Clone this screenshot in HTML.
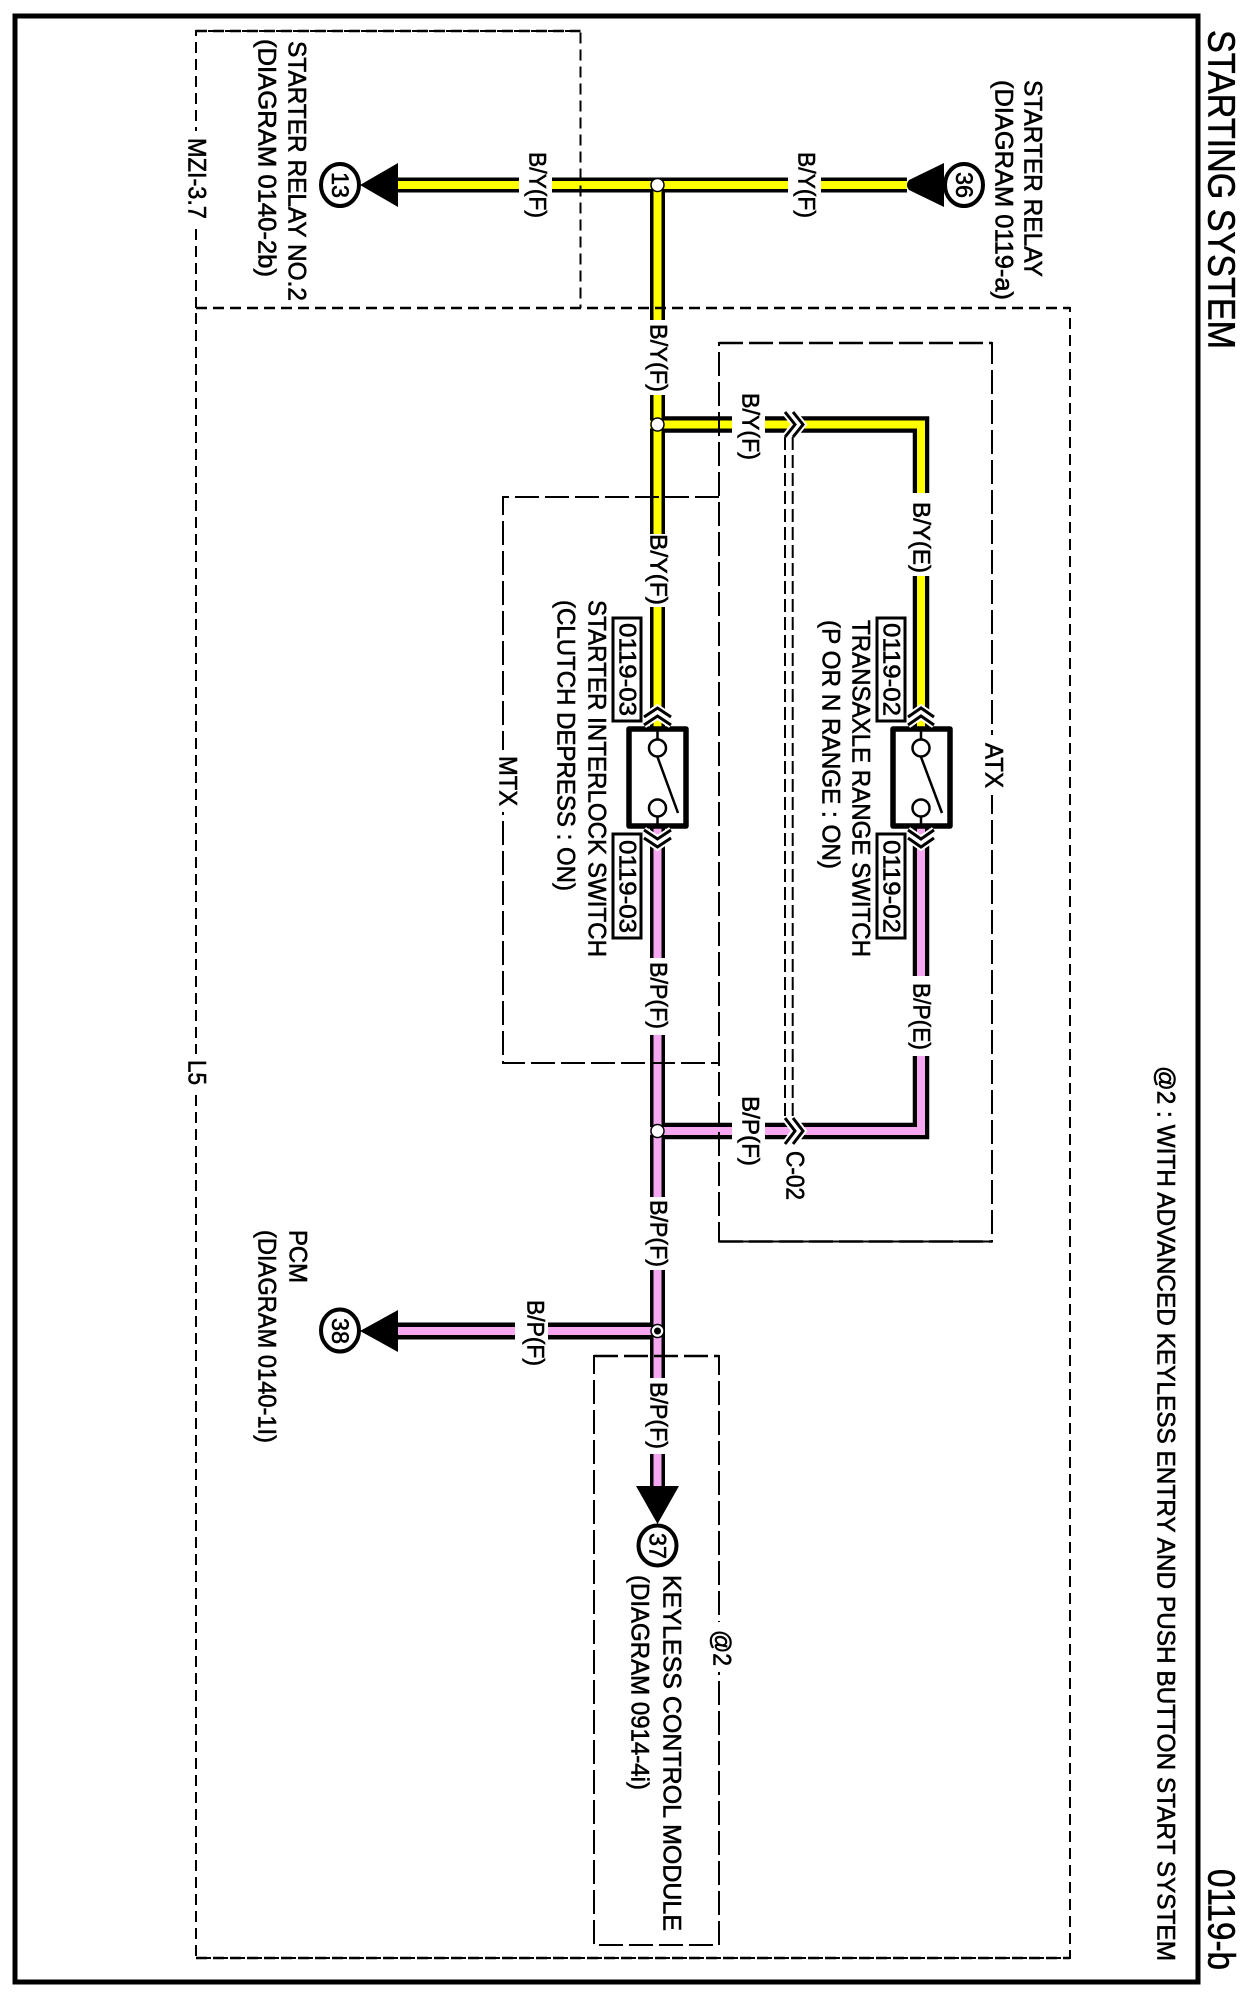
<!DOCTYPE html>
<html>
<head>
<meta charset="utf-8">
<style>
html,body{margin:0;padding:0;background:#fff}
svg{display:block}
text{font-family:"Liberation Sans",sans-serif;fill:#000;stroke:#000;stroke-width:.6}
.t{font-size:25px}
.w{font-size:24.500px}
</style>
</head>
<body>
<svg width="1242" height="1998" viewBox="0 0 1242 1998" xmlns="http://www.w3.org/2000/svg">
<rect width="1242" height="1998" fill="#fff"/>
<rect x="15" y="16" width="1183" height="1966" fill="none" stroke="#000" stroke-width="5"/>

<!-- wires black -->
<g fill="none" stroke="#000" stroke-width="15" stroke-linejoin="miter">
<path d="M397 185H907"/>
<path d="M657.500 185V727"/>
<path d="M657.500 828V1486"/>
<path d="M650 424.500H921V727" stroke-width="16.500"/>
<path d="M921 828V1131H650" stroke-width="16.500"/>
<path d="M397 1331H657" stroke-width="17"/>
</g>
<!-- wires colour -->
<g fill="none" stroke-width="8" stroke-linejoin="miter">
<g stroke="#ffff00">
<path d="M397 185H907"/>
<path d="M657.500 185V727"/>
<path d="M650 424.500H921V727"/>
</g>
<g stroke="#f5a8f0">
<path d="M657.500 828V1486"/>
<path d="M921 828V1131H650"/>
<path d="M397 1331H657"/>
</g>
</g>

<!-- label gaps in wires -->
<g fill="#fff">
<rect x="519" y="170" width="33" height="30"/>
<rect x="788" y="170" width="33" height="30"/>
<rect x="640" y="320" width="36" height="75"/>
<rect x="640" y="534" width="36" height="73"/>
<rect x="640" y="958" width="36" height="77"/>
<rect x="640" y="1197" width="36" height="73"/>
<rect x="640" y="1378" width="36" height="76"/>
<rect x="904" y="493" width="36" height="83"/>
<rect x="904" y="976" width="36" height="80"/>
<rect x="732" y="410" width="33" height="30"/>
<rect x="732" y="1117" width="33" height="30"/>
<rect x="515" y="1315" width="33" height="32"/>
</g>

<!-- dashed boxes -->
<g fill="none" stroke="#000" stroke-width="2">
<path d="M196 308V31H580.500V308" stroke-dasharray="11 6"/>
<path d="M196 31H580.500" stroke-width="2.500" stroke-dasharray="11 6"/>
<rect x="196" y="308" width="874" height="1650" stroke-dasharray="11 6"/>
<path d="M196 308H1070M196 1958H1070" stroke-width="2.500" stroke-dasharray="11 6"/>
<rect x="719" y="343" width="273" height="898.500" stroke-dasharray="24 6"/>
<path d="M719 343H992M719 1241.500H992" stroke-width="2.500" stroke-dasharray="24 6"/>
<path d="M719 497H503V1063H719" stroke-dasharray="24 6"/>
<rect x="594" y="1356" width="125" height="589" stroke-dasharray="24 6"/>
<path d="M594 1356H719" stroke-width="2.500" stroke-dasharray="24 6"/>
<path d="M785 437V1117M792.700 437V1117" stroke-dasharray="13 5"/>
</g>

<!-- gaps in dashed lines for their labels -->
<g fill="#fff">
<rect x="190" y="131" width="12" height="94"/>
<rect x="190" y="1054" width="12" height="37"/>
<rect x="985" y="735" width="14" height="60"/>
<rect x="496" y="750" width="14" height="62"/>
<rect x="712" y="1622" width="14" height="50"/>
</g>

<!-- junctions -->
<g fill="#fff" stroke="#000" stroke-width="1.500">
<circle cx="657.500" cy="185" r="6.500"/>
<circle cx="657.500" cy="424.500" r="6.500"/>
<circle cx="657.500" cy="1131" r="6.500"/>
<circle cx="657.500" cy="1331" r="6.500"/>
</g>
<circle cx="657.500" cy="1331" r="3.500" fill="#000"/>

<!-- arrowheads -->
<g fill="#000">
<path d="M360 185L398 163V207Z"/>
<path d="M944 163V207L909 190Q905 185 909 180Z"/>
<path d="M360 1331L398 1310V1352Z"/>
<path d="M636 1486H679L657.500 1524Z"/>
</g>

<!-- numbered circles -->
<g fill="#fff" stroke="#000" stroke-width="4">
<ellipse cx="340" cy="185" rx="19" ry="21"/>
<ellipse cx="964" cy="185" rx="19" ry="21"/>
<ellipse cx="340" cy="1330.500" rx="19" ry="21"/>
<ellipse cx="657.500" cy="1545.500" rx="19" ry="20"/>
</g>

<!-- switches -->
<g fill="#fff" stroke="#000" stroke-width="5.500" stroke-linejoin="round">
<rect x="629" y="729" width="57" height="97"/>
<rect x="893" y="729" width="57" height="97"/>
</g>
<g fill="none" stroke="#000" stroke-width="2.500">
<path d="M657.500 731V739M657.500 817V826M657.500 757L678 813"/>
<path d="M921 731V739M921 817V826M921 757L942 813"/>
</g>
<g fill="#fff" stroke="#000" stroke-width="2.500">
<circle cx="657.500" cy="748" r="8.500"/>
<circle cx="657.500" cy="808" r="8.500"/>
<circle cx="921" cy="748" r="8.500"/>
<circle cx="921" cy="808" r="8.500"/>
</g>

<!-- chevrons -->
<g fill="none" stroke="#fff" stroke-width="7">
<path d="M644 717L657.500 708L671 717M644 725L657.500 716L671 725"/>
<path d="M908 717L921 708L934 717M908 725L921 716L934 725"/>
<path d="M644 830L657.500 839L671 830M644 838L657.500 847L671 838"/>
<path d="M908 830L921 839L934 830M908 838L921 847L934 838"/>
<path d="M785 412L795 424.500L785 437M793 412L803 424.500L793 437"/>
<path d="M785 1118L795 1131L785 1144M793 1118L803 1131L793 1144"/>
</g>
<g fill="none" stroke="#000" stroke-width="3">
<path d="M644 717L657.500 708L671 717M644 725L657.500 716L671 725"/>
<path d="M908 717L921 708L934 717M908 725L921 716L934 725"/>
<path d="M644 830L657.500 839L671 830M644 838L657.500 847L671 838"/>
<path d="M908 830L921 839L934 830M908 838L921 847L934 838"/>
<path d="M785 412L795 424.500L785 437M793 412L803 424.500L793 437"/>
<path d="M785 1118L795 1131L785 1144M793 1118L803 1131L793 1144"/>
</g>

<!-- reference boxes -->
<g fill="#fff" stroke="#000" stroke-width="3">
<rect x="613" y="618" width="28" height="103"/>
<rect x="613" y="834" width="28" height="104"/>
<rect x="877" y="618" width="28" height="103"/>
<rect x="877" y="834" width="28" height="104"/>
</g>

<!-- text: rotated 90deg, baseline at x, starts at y -->
<g transform="translate(1.500,0)">
<text transform="translate(1207,30) rotate(90)" style="font-size:38px" textLength="319" lengthAdjust="spacingAndGlyphs">STARTING SYSTEM</text>
<text transform="translate(1207,1869) rotate(90)" style="font-size:38px" textLength="101" lengthAdjust="spacingAndGlyphs">0119-b</text>
<text class="t" transform="translate(1156,1066) rotate(90)" textLength="895" lengthAdjust="spacingAndGlyphs">@2 : WITH ADVANCED KEYLESS ENTRY AND PUSH BUTTON START SYSTEM</text>

<text class="t" transform="translate(287,41) rotate(90)" textLength="260" lengthAdjust="spacingAndGlyphs">STARTER RELAY NO.2</text>
<text class="t" transform="translate(257,39) rotate(90)" textLength="238" lengthAdjust="spacingAndGlyphs">(DIAGRAM 0140-2b)</text>
<text class="t" transform="translate(187,138) rotate(90)" textLength="81" lengthAdjust="spacingAndGlyphs">MZI-3.7</text>
<text class="t" transform="translate(187,1060) rotate(90)" textLength="25" lengthAdjust="spacingAndGlyphs">L5</text>
<text class="t" transform="translate(1023,80) rotate(90)" textLength="197" lengthAdjust="spacingAndGlyphs">STARTER RELAY</text>
<text class="t" transform="translate(994,80) rotate(90)" textLength="220" lengthAdjust="spacingAndGlyphs">(DIAGRAM 0119-a)</text>
<text class="t" transform="translate(984,743) rotate(90)" textLength="45" lengthAdjust="spacingAndGlyphs">ATX</text>
<text class="t" transform="translate(498,756) rotate(90)" textLength="50" lengthAdjust="spacingAndGlyphs">MTX</text>
<text class="t" transform="translate(712,1630) rotate(90)" textLength="36" lengthAdjust="spacingAndGlyphs">@2</text>
<text class="t" transform="translate(587,600) rotate(90)" textLength="357" lengthAdjust="spacingAndGlyphs">STARTER INTERLOCK SWITCH</text>
<text class="t" transform="translate(556,600) rotate(90)" textLength="291" lengthAdjust="spacingAndGlyphs">(CLUTCH DEPRESS : ON)</text>
<text class="t" transform="translate(851,620) rotate(90)" textLength="337" lengthAdjust="spacingAndGlyphs">TRANSAXLE RANGE SWITCH</text>
<text class="t" transform="translate(821,620) rotate(90)" textLength="249" lengthAdjust="spacingAndGlyphs">(P OR N RANGE : ON)</text>
<text class="t" transform="translate(785,1151) rotate(90)" textLength="49" lengthAdjust="spacingAndGlyphs">C-02</text>
<text class="t" transform="translate(288,1230) rotate(90)" textLength="53" lengthAdjust="spacingAndGlyphs">PCM</text>
<text class="t" transform="translate(257,1230) rotate(90)" textLength="213" lengthAdjust="spacingAndGlyphs">(DIAGRAM 0140-1I)</text>
<text class="t" transform="translate(662,1575) rotate(90)" textLength="356" lengthAdjust="spacingAndGlyphs">KEYLESS CONTROL MODULE</text>
<text class="t" transform="translate(630,1575) rotate(90)" textLength="215" lengthAdjust="spacingAndGlyphs">(DIAGRAM 0914-4i)</text>

<!-- ref box text -->
<text class="w" transform="translate(618,623) rotate(90)" textLength="93" lengthAdjust="spacingAndGlyphs">0119-03</text>
<text class="w" transform="translate(618,840) rotate(90)" textLength="93" lengthAdjust="spacingAndGlyphs">0119-03</text>
<text class="w" transform="translate(882,623) rotate(90)" textLength="93" lengthAdjust="spacingAndGlyphs">0119-02</text>
<text class="w" transform="translate(882,840) rotate(90)" textLength="93" lengthAdjust="spacingAndGlyphs">0119-02</text>

<!-- wire labels -->
<text class="w" transform="translate(528,152) rotate(90)" textLength="66" lengthAdjust="spacingAndGlyphs">B/Y(F)</text>
<text class="w" transform="translate(797,152) rotate(90)" textLength="66" lengthAdjust="spacingAndGlyphs">B/Y(F)</text>
<text class="w" transform="translate(649,324) rotate(90)" textLength="68" lengthAdjust="spacingAndGlyphs">B/Y(F)</text>
<text class="w" transform="translate(649,534) rotate(90)" textLength="71" lengthAdjust="spacingAndGlyphs">B/Y(F)</text>
<text class="w" transform="translate(741,393) rotate(90)" textLength="67" lengthAdjust="spacingAndGlyphs">B/Y(F)</text>
<text class="w" transform="translate(912,502) rotate(90)" textLength="71" lengthAdjust="spacingAndGlyphs">B/Y(E)</text>
<text class="w" transform="translate(649,962) rotate(90)" textLength="67" lengthAdjust="spacingAndGlyphs">B/P(F)</text>
<text class="w" transform="translate(912,983) rotate(90)" textLength="67" lengthAdjust="spacingAndGlyphs">B/P(E)</text>
<text class="w" transform="translate(741,1096) rotate(90)" textLength="70" lengthAdjust="spacingAndGlyphs">B/P(F)</text>
<text class="w" transform="translate(649,1200) rotate(90)" textLength="67" lengthAdjust="spacingAndGlyphs">B/P(F)</text>
<text class="w" transform="translate(526,1300) rotate(90)" textLength="66" lengthAdjust="spacingAndGlyphs">B/P(F)</text>
<text class="w" transform="translate(649,1382) rotate(90)" textLength="67" lengthAdjust="spacingAndGlyphs">B/P(F)</text>

<!-- circle numbers -->
<text class="w" transform="translate(330.500,172) rotate(90)" textLength="26" lengthAdjust="spacingAndGlyphs">13</text>
<text class="w" transform="translate(954.500,172) rotate(90)" textLength="26" lengthAdjust="spacingAndGlyphs">36</text>
<text class="w" transform="translate(330.500,1318) rotate(90)" textLength="26" lengthAdjust="spacingAndGlyphs">38</text>
<text class="w" transform="translate(648,1533) rotate(90)" textLength="26" lengthAdjust="spacingAndGlyphs">37</text>
</g>
</svg>
</body>
</html>
